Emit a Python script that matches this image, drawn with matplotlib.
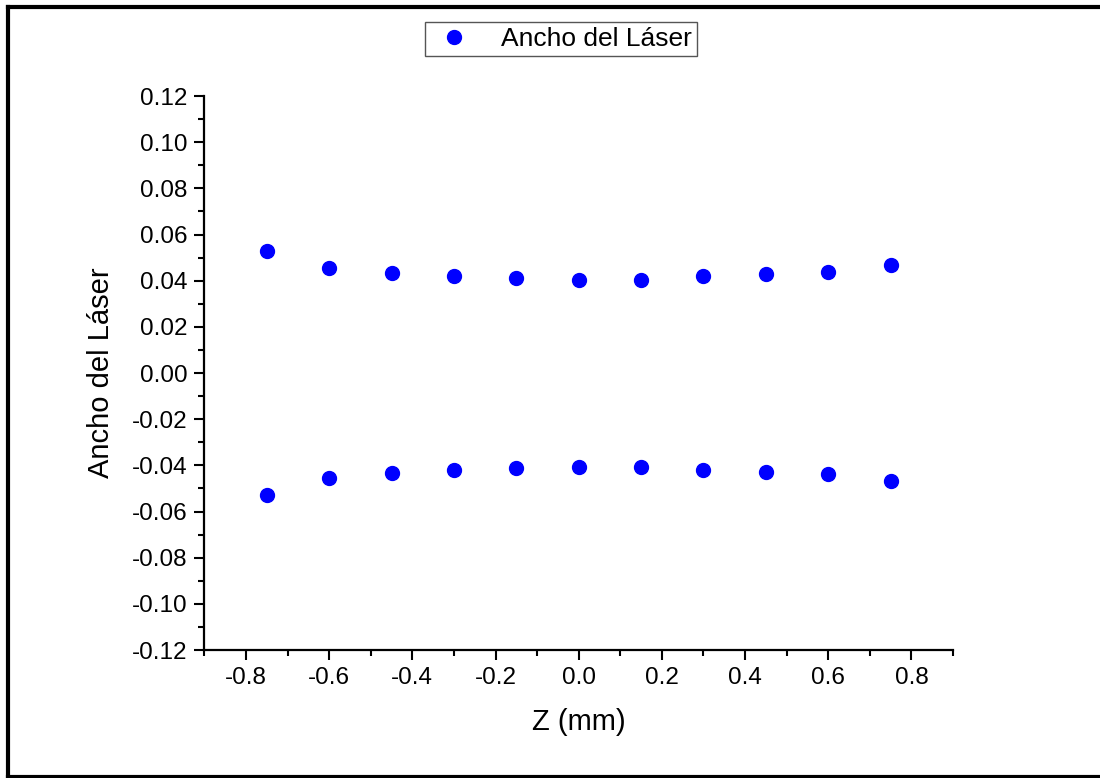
import matplotlib.pyplot as plt
from matplotlib.ticker import MultipleLocator, FormatStrFormatter
from matplotlib.lines import Line2D

plt.rcParams['font.family'] = ['Liberation Sans', 'DejaVu Sans']

# Z positions (mm) and measured laser half-widths
z = [-0.75, -0.60, -0.45, -0.30, -0.15, 0.0, 0.15, 0.30, 0.45, 0.60, 0.75]
ancho_sup = [0.0529, 0.0453, 0.0432, 0.0420, 0.0412, 0.0405, 0.0405, 0.0420, 0.0430, 0.0436, 0.0468]
ancho_inf = [-w for w in ancho_sup]

fig = plt.figure(figsize=(11, 7.78), dpi=100)
ax = fig.add_axes([0.1858, 0.1645, 0.6806, 0.7121])

ax.plot(z, ancho_sup, 'o', color='#0000ff', ms=10, label='Ancho del Láser')
ax.plot(z, ancho_inf, 'o', color='#0000ff', ms=10)

ax.set_xlim(-0.9, 0.9)
ax.set_ylim(-0.12, 0.12)
ax.xaxis.set_major_locator(MultipleLocator(0.2))
ax.xaxis.set_minor_locator(MultipleLocator(0.1))
ax.yaxis.set_major_locator(MultipleLocator(0.02))
ax.yaxis.set_minor_locator(MultipleLocator(0.01))
ax.xaxis.set_major_formatter(FormatStrFormatter('%.1f'))
ax.yaxis.set_major_formatter(FormatStrFormatter('%.2f'))

for s in ['top', 'right']:
    ax.spines[s].set_visible(False)
for s in ['left', 'bottom']:
    ax.spines[s].set_linewidth(1.6)
ax.tick_params(which='major', direction='out', length=7, width=1.5, labelsize=17.5, pad=5)
ax.tick_params(which='minor', direction='out', length=4, width=1.5)

ax.set_xlabel('Z (mm)', fontsize=21, labelpad=14)
ax.set_ylabel('Ancho del Láser', fontsize=21, labelpad=12)

fig.legend(loc='center', bbox_to_anchor=(0.51, 0.95), fontsize=19, fancybox=False,
           edgecolor='#555555', framealpha=1, handletextpad=0.9, borderpad=0.2,
           handlelength=1.8, borderaxespad=0)

# outer frame (left, top and bottom edges)
W, H = 1100, 778
for xs, ys in [([7.5, 7.5], [1.5, 771.5]), ([7.5, 1100], [771.5, 771.5]), ([7.5, 1100], [1.0, 1.0])]:
    fig.add_artist(Line2D([x / W for x in xs], [y / H for y in ys], transform=fig.transFigure,
                          color='black', linewidth=3))

fig.savefig('out.png', dpi=100)
